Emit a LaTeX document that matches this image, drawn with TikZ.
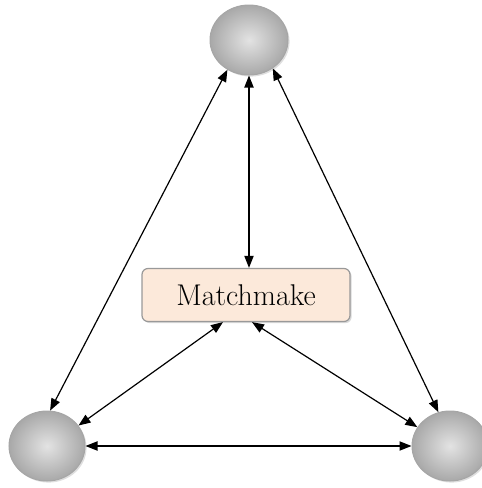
\documentclass[tikz,border=0pt]{standalone}
\usepackage{tikz}
\usetikzlibrary{arrows.meta,calc,shapes.geometric,shadows}

\tikzset{
  peer/.style={ellipse,draw=gray!70,line width=.5pt,inner sep=0pt,
    minimum width=38pt,minimum height=35pt,
    shading=radial,inner color=gray!22,outer color=gray!68,
    drop shadow={shadow xshift=.8pt,shadow yshift=-.8pt,opacity=.25}},
  hub/.style={rectangle,rounded corners=3pt,draw=gray!80,line width=.6pt,
    fill={rgb,255:red,252;green,233;blue,218},
    minimum width=104pt,minimum height=26.5pt,
    font=\fontsize{15}{18}\selectfont,
    drop shadow={shadow xshift=.8pt,shadow yshift=-.8pt,opacity=.3}},
  link/.style={line width=.6pt,{Triangle[length=6pt,width=4.6pt]}-{Triangle[length=6pt,width=4.6pt]}}
}

\begin{document}
\begin{tikzpicture}[x=.5pt,y=-.5pt]
  \useasboundingbox (0,0) rectangle (482,488);
  \node[peer,minimum width=39pt] (top) at (249,40){};
  \node[peer] (left) at (47,446){};
  \node[peer] (right) at (450,446){};
  \node[hub] (mm) at (246,295){Matchmake};
  \draw[link] (top.south) -- (top.south |- mm.north);
  \draw[link] (top.234) -- (left.85);
  \draw[link] (top.310) -- (right.109);
  \draw[link] ([xshift=-11.5pt]mm.south) -- (left.33);
  \draw[link] ([xshift=3pt]mm.south) -- (right.150);
  \draw[link] (left.east) -- (right.west);
\end{tikzpicture}
\end{document}
